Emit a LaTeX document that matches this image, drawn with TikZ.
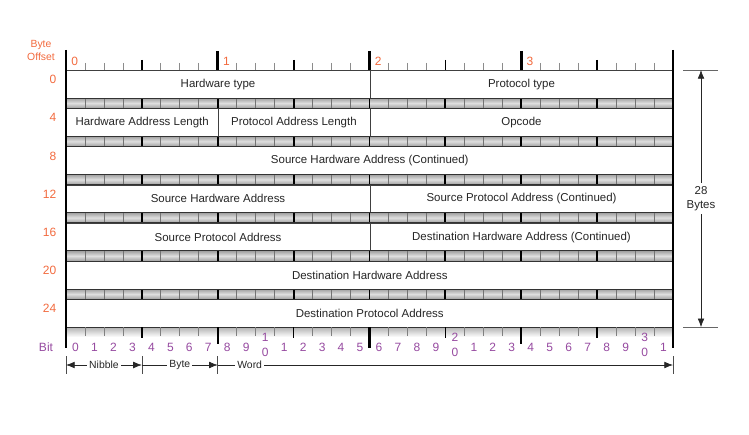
\documentclass[tikz,border=0pt]{standalone}
\usepackage{fontspec}
\setmainfont{Liberation Sans}
\usetikzlibrary{arrows.meta}

\definecolor{offsetorange}{RGB}{242,106,62}
\definecolor{bitpurple}{RGB}{150,74,160}

\begin{document}
\begin{tikzpicture}[
    x=0.75pt, y=-0.75pt,
    field/.style={
        rectangle,
        draw=black!75,
        fill=white,
        anchor=north west,
        inner sep=0pt,
        minimum height=21pt,
        minimum width=#1*0.75pt,
        text=black!85,
        font=\fontsize{8.6}{10}\selectfont
    },
    band/.style={top color=gray!75, bottom color=gray!75, middle color=gray!25},
    offset/.style={text=offsetorange, font=\fontsize{9}{9}\selectfont},
    bitnum/.style={text=bitpurple, align=center, font=\fontsize{9}{11}\selectfont},
    span/.style={fill=white, inner sep=1.5pt, text=black!85, font=\fontsize{7.8}{9}\selectfont},
    arrow/.style={-{Latex[length=6.5pt,width=5pt]}, line width=0.5pt, black!85}
]
\useasboundingbox (0,0) rectangle (749,435);

\node[field=303.5] (hwtype) at (66,70) {Hardware type};
\node[field=303.5] (prtype) at (369.5,70) {Protocol type};
\node[field=151.75] (hwlen) at (66,108.2) {Hardware Address Length};
\node[field=151.75] (prlen) at (217.75,108.2) {Protocol Address Length};
\node[field=303.5] (opcode) at (369.5,108.2) {Opcode};
\node[field=607] (srchwcont) at (66,146.4) {Source Hardware Address (Continued)};
\node[field=303.5] (srchw) at (66,184.6) {Source Hardware Address};
\node[field=303.5] (srcprcont) at (369.5,184.6) {Source Protocol Address (Continued)};
\node[field=303.5] (srcpr) at (66,222.8) {Source Protocol Address};
\node[field=303.5] (dsthwcont) at (369.5,222.8) {Destination Hardware Address (Continued)};
\node[field=607] (dsthw) at (66,261) {Destination Hardware Address};
\node[field=607] (dstpr) at (66,299.2) {Destination Protocol Address};

\foreach \t in {98,136.2,174.4,212.6,250.8,289}{
    \shade[band] (66,\t) rectangle (673,\t+10.2);
    \foreach \i in {1,...,31}
        \draw[black!55, line width=0.6pt] ({66+\i*18.97},\t) -- ++(0,10.2);
    \foreach \i in {4,8,...,28}
        \draw[black, line width=1.4pt] ({66+\i*18.97},\t) -- ++(0,10.2);
    \draw[black!80, line width=0.7pt] (66,\t) -- (673,\t) (66,\t+10.2) -- (673,\t+10.2);
}

\foreach \i in {1,...,31}
    \draw[black!45, line width=0.6pt] ({66+\i*18.97},63) -- ++(0,7);
\foreach \i in {4,12,20,28}
    \draw[black, line width=1.3pt] ({66+\i*18.97},60) -- ++(0,10);
\foreach \i in {8,16,24}
    \draw[black, line width=2pt] ({66+\i*18.97},51) -- ++(0,19);
\foreach \b in {0,...,3}
    \node[offset, anchor=west, inner sep=0pt] (byte\b) at ({66+\b*151.75+5},61) {\b};

\shade[top color=gray!60, bottom color=white] (66,327.2) rectangle (673,337);
\draw[black!80, line width=0.7pt] (66,327.2) -- (673,327.2);
\foreach \i in {1,...,31}
    \draw[black!50, line width=0.6pt] ({66+\i*18.97},327.2) -- ++(0,9);
\foreach \i in {4,12,20,28}
    \draw[black, line width=1.2pt] ({66+\i*18.97},327.2) -- ++(0,10.5);
\foreach \i in {8,24}
    \draw[black, line width=1.6pt] ({66+\i*18.97},327.2) -- ++(0,16.5);
\draw[black, line width=2.4pt] (369.5,327.2) -- (369.5,348);

\draw[black, line width=2.2pt] (66,50) -- (66,348);
\draw[black, line width=2.2pt] (673,50) -- (673,348);

\node[offset, align=center, font=\fontsize{7.8}{9.6}\selectfont] (offsethead) at (41,50.5) {Byte\\Offset};
\foreach \o [count=\k from 0] in {0,4,...,24}
    \node[offset, anchor=east] (row\o) at (61,{70+38.2*\k+9.5}) {\o};

\node[bitnum] (bithead) at (46,347) {Bit};
\foreach \i in {0,...,31}{
    \pgfmathtruncatemacro\units{mod(\i,10)}
    \pgfmathtruncatemacro\tens{int(\i/10)}
    \ifnum\units=0
        \ifnum\i>0
            \node[bitnum] (bit\i) at ({66+(\i+0.5)*18.97},345) {\tens\\0};
        \else
            \node[bitnum] (bit\i) at ({66+(\i+0.5)*18.97},347) {0};
        \fi
    \else
        \node[bitnum] (bit\i) at ({66+(\i+0.5)*18.97},347) {\units};
    \fi
}

\foreach \x in {66,141.9,217.8,673}
    \draw[black!70, line width=0.5pt] (\x,356) -- (\x,374);
\coordinate (nibleft) at (66,365);
\coordinate (nibright) at (141.9,365);
\coordinate (byteright) at (217.8,365);
\coordinate (wordright) at (673,365);
\draw[arrow, {Latex[length=6.5pt,width=5pt]}-{Latex[length=6.5pt,width=5pt]}] (nibleft) -- node[span] (nibble) {Nibble} (nibright);
\draw[arrow] (nibright) -- node[span] (bytespan) {Byte} (byteright);
\draw[arrow] (byteright) -- node[span, pos=0.07] (wordspan) {Word} (wordright);

\draw[black!60, line width=0.5pt] (683,70) -- (718,70);
\draw[black!60, line width=0.5pt] (683,327.2) -- (718,327.2);
\coordinate (dimtop) at (701,70);
\coordinate (dimbot) at (701,327.2);
\draw[arrow, {Latex[length=6.5pt,width=5pt]}-{Latex[length=6.5pt,width=5pt]}] (dimtop) -- node[fill=white, align=center, inner sep=2pt, text=black!85, font=\fontsize{8.6}{11}\selectfont] (total) {28\\Bytes} (dimbot);

\end{tikzpicture}
\end{document}
